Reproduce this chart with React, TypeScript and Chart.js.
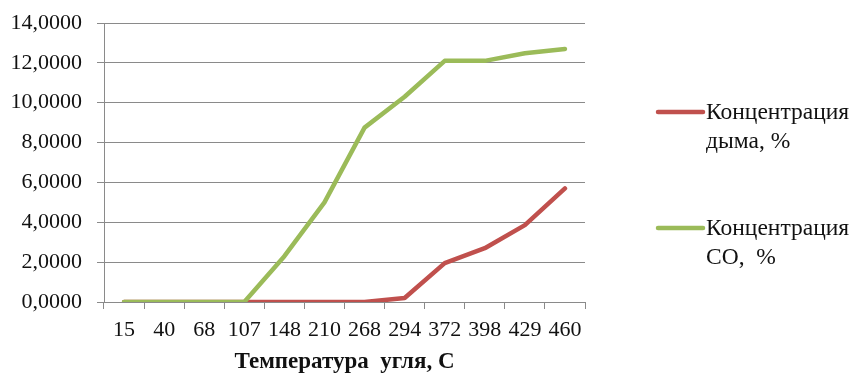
import React, { useEffect, useRef } from 'react';
import { Chart, registerables } from 'chart.js';

Chart.register(...registerables);

const categories = ['15', '40', '68', '107', '148', '210', '268', '294', '372', '398', '429', '460'];
const smokeValues = [0, 0, 0, 0, 0, 0, 0, 0.2, 1.95, 2.7, 3.86, 5.7];
const coValues = [0, 0, 0, 0, 2.3, 5.0, 8.75, 10.3, 12.1, 12.1, 12.48, 12.7];
const smokeLabel = ['Концентрация', 'дыма, %'];
const coLabel = ['Концентрация', 'СО,  %'];
const xTitle = 'Температура  угля, С';

const RED = '#C0504D';
const GREEN = '#9BBB59';
const GRID = '#8a8a8a';
const FONT = '"Liberation Serif", "Times New Roman", serif';

const sideLegend = {
  id: 'sideLegend',
  afterDraw(chart: any) {
    const { ctx, chartArea } = chart;
    const items = [
      { color: RED, text: smokeLabel, y: 112 },
      { color: GREEN, text: coLabel, y: 228 },
    ];
    ctx.save();
    items.forEach((it) => {
      const x0 = chartArea.right + 73;
      ctx.strokeStyle = it.color;
      ctx.lineWidth = 4.5;
      ctx.lineCap = 'round';
      ctx.beginPath();
      ctx.moveTo(x0, it.y);
      ctx.lineTo(x0 + 45, it.y);
      ctx.stroke();
      ctx.fillStyle = '#111';
      ctx.font = `23.5px ${FONT}`;
      ctx.textBaseline = 'middle';
      ctx.textAlign = 'left';
      it.text.forEach((t, i) => {
        ctx.fillText(t, x0 + 48, it.y + 1 + i * 29);
      });
    });
    ctx.restore();
  },
};

export default function App() {
  const ref = useRef<HTMLCanvasElement | null>(null);
  useEffect(() => {
    if (!ref.current) return;
    const chart = new Chart(ref.current, {
      type: 'line',
      data: {
        labels: categories,
        datasets: [
          {
            label: smokeLabel.join(' '),
            data: smokeValues,
            borderColor: RED,
            backgroundColor: RED,
            borderWidth: 4.5,
            pointRadius: 0,
            tension: 0,
            borderJoinStyle: 'round',
            borderCapStyle: 'round',
            order: 1,
          },
          {
            label: coLabel.join(' '),
            data: coValues,
            borderColor: GREEN,
            backgroundColor: GREEN,
            borderWidth: 4.5,
            pointRadius: 0,
            tension: 0,
            borderJoinStyle: 'round',
            borderCapStyle: 'round',
            order: 0,
          },
        ],
      },
      options: {
        responsive: false,
        animation: false,
        layout: { padding: { top: 23, right: 266, left: 0, bottom: 0 } },
        plugins: { legend: { display: false }, tooltip: { enabled: false } },
        scales: {
          x: {
            offset: true,
            grid: { offset: true, drawOnChartArea: false, tickLength: 7, color: GRID },
            border: { color: GRID },
            ticks: {
              autoSkip: false,
              maxRotation: 0,
              padding: 8,
              color: '#111',
              font: { family: FONT, size: 22 },
            },
            title: {
              display: true,
              text: xTitle,
              color: '#111',
              font: { family: FONT, size: 23, weight: 'bold', lineHeight: 1.0 },
              padding: { top: 0, bottom: 0 },
            },
            afterFit: (s: any) => {
              s.height = 72;
            },
          },
          y: {
            min: 0,
            max: 14,
            ticks: {
              stepSize: 2,
              padding: 15,
              color: '#111',
              font: { family: FONT, size: 22 },
              callback: (v: any) => Number(v).toFixed(4).replace('.', ','),
            },
            grid: { color: GRID, tickLength: 7, lineWidth: 1 },
            border: { color: GRID },
            afterFit: (s: any) => {
              s.width = 104;
              s.paddingTop = 0;
              s.paddingBottom = 0;
            },
          },
        },
      },
      plugins: [sideLegend],
    });
    return () => chart.destroy();
  }, []);
  return (
    <div style={{ position: 'fixed', left: 0, top: 0, width: 851, height: 374, background: '#fff' }}>
      <canvas ref={ref} width={851} height={374} />
    </div>
  );
}
